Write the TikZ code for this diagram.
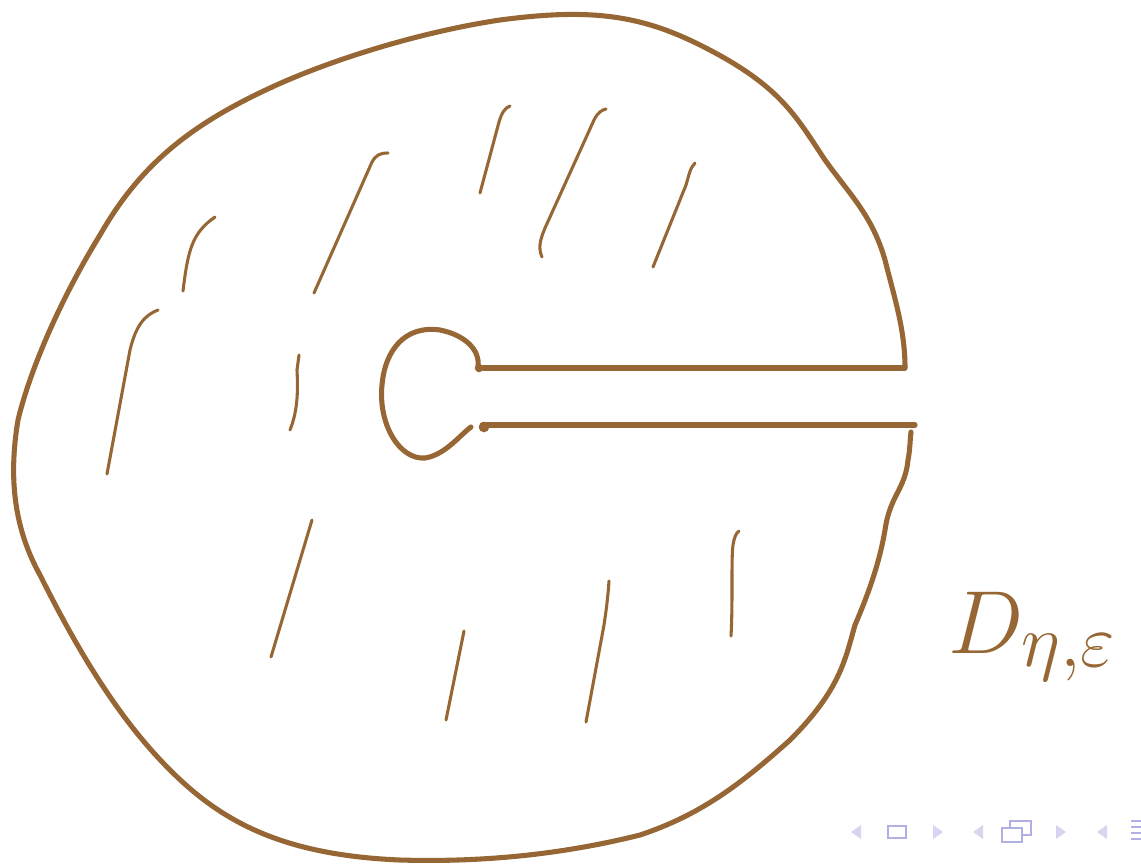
\documentclass[tikz,border=0pt]{standalone}
\usepackage{amsmath}
\definecolor{ink}{RGB}{150,103,52}
\definecolor{navlight}{RGB}{214,214,240}
\definecolor{navdark}{RGB}{176,176,226}
\tikzset{
  outline/.style={draw=ink,line width=3.8pt,line cap=round,line join=round},
  hatch/.style={draw=ink,line width=2.3pt,line cap=round},
  navtri/.style={fill=navlight,draw=none},
  navbox/.style={draw=navdark,line width=1.6pt,fill=white}
}
\begin{document}
\begin{tikzpicture}[x=0.75pt,y=-0.75pt]
\useasboundingbox (0,0) rectangle (1141,864);
% outer boundary
\draw[outline] (905,368) .. controls (905,330) and (895,300) .. (885,260)
  .. controls (872,215) and (850,195) .. (825,160)
  .. controls (795,115) and (780,85) .. (700,45)
  .. controls (640,15) and (590,8) .. (500,20)
  .. controls (420,32) and (330,60) .. (270,88)
  .. controls (190,125) and (140,165) .. (100,235)
  .. controls (60,300) and (30,370) .. (18,420)
  .. controls (8,480) and (15,530) .. (40,575)
  .. controls (80,655) and (120,720) .. (170,770)
  .. controls (220,820) and (280,855) .. (400,860)
  .. controls (500,863) and (580,850) .. (640,835)
  .. controls (700,815) and (740,785) .. (790,740)
  .. controls (840,690) and (845,660) .. (855,625)
  .. controls (870,590) and (880,560) .. (885,530)
  .. controls (890,495) and (905,490) .. (908,460)
  .. controls (910,450) and (910,440) .. (911,432);
% keyhole slit
\draw[outline] (483,368) -- (905,368);
\draw[outline] (483,425) -- (915,425);
% small circle
\draw[outline] (478,366) .. controls (480,350) and (465,335) .. (440,330)
  .. controls (405,325) and (385,350) .. (382,385)
  .. controls (378,425) and (400,460) .. (425,458)
  .. controls (445,455) and (460,435) .. (471,427);
\fill[ink] (479,368) circle (3.2pt);
\fill[ink] (484,427) circle (4pt);
% hatching
\draw[hatch] (183,291) .. controls (188,250) and (192,233) .. (215,217);
\draw[hatch] (107,474) -- (130,350) .. controls (136,325) and (145,315) .. (158,310);
\draw[hatch] (314,293) -- (372,162) .. controls (376,155) and (380,153) .. (388,153);
\draw[hatch] (290,430) .. controls (298,410) and (298,390) .. (297,370) -- (299,355);
\draw[hatch] (480,193) -- (499,122) .. controls (502,112) and (505,108) .. (510,106);
\draw[hatch] (542,257) .. controls (538,248) and (540,240) .. (545,228) -- (594,120) .. controls (598,112) and (602,110) .. (606,109);
\draw[hatch] (653,267) -- (686,185) .. controls (689,175) and (690,168) .. (695,163);
\draw[hatch] (271,657) -- (312,520);
\draw[hatch] (446,720) -- (464,631);
\draw[hatch] (586,722) -- (604,625) .. controls (607,605) and (608,595) .. (609,581);
\draw[hatch] (731,636) .. controls (733,600) and (731,560) .. (733,545) .. controls (734,538) and (736,533) .. (739,531);
% label
\node[anchor=base west,text=ink,inner sep=0pt,font=\Huge,scale=2.7] (lbl) at (948,653) {$D_{\eta,\varepsilon}$};
% navigation symbols
\fill[navtri] (851,832) -- (861,825) -- (861,839) -- cycle;
\draw[navbox] (888,826) rectangle (906,838);
\fill[navtri] (943,832) -- (933,825) -- (933,839) -- cycle;
\fill[navtri] (973,832) -- (983,825) -- (983,839) -- cycle;
\draw[navbox] (1010,821) rectangle (1031,835);
\draw[navbox] (1002,828) rectangle (1022,842);
\fill[navtri] (1066,832) -- (1056,825) -- (1056,839) -- cycle;
\fill[navtri] (1097,832) -- (1107,825) -- (1107,839) -- cycle;
\fill[navdark] (1131,820) rectangle (1141,822);
\fill[navdark] (1131,826) rectangle (1141,828);
\fill[navdark] (1131,832) rectangle (1141,834);
\fill[navdark] (1131,838) rectangle (1141,840);
\end{tikzpicture}
\end{document}
